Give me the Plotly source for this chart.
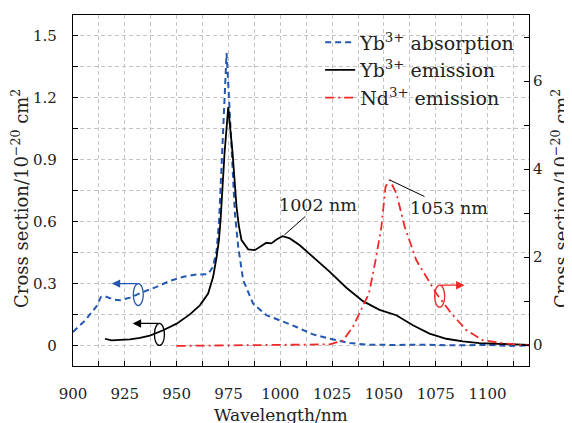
import plotly.graph_objects as go

# Yb3+ absorption (left axis, 1e-20 cm^2)
abs_wl = [900, 905.8, 911.4, 913.5, 915.4, 919.4, 922.7, 927.5, 933.9, 940.3, 946.7, 953.2,
          959.6, 965.2, 967.5, 969.3, 970.5, 971.8, 972.9, 974.1, 975.3, 976.6, 977.3, 978.1,
          979.7, 982.1, 986.9, 993.3, 999.8, 1007.8, 1015.8, 1023.9, 1033.5, 1043, 1055,
          1070, 1085, 1100, 1110, 1120]
abs_val = [0.065, 0.12, 0.19, 0.235, 0.238, 0.222, 0.218, 0.231, 0.259, 0.283, 0.312, 0.332,
           0.343, 0.345, 0.38, 0.46, 0.607, 0.93, 1.19, 1.416, 1.19, 0.93, 0.80, 0.64,
           0.477, 0.316, 0.202, 0.146, 0.121, 0.089, 0.053, 0.032, 0.011, 0.003, 0.002,
           0.003, 0.0, 0.002, -0.003, 0.0]

# Yb3+ emission (left axis)
emi_wl = [915.4, 918.6, 922.7, 927.5, 932.3, 937.1, 943.5, 950, 956.4, 961.2, 965.2, 967.6,
          969.3, 970.4, 971.2, 973.1, 974.9, 977, 978.9, 980, 981.3, 984.5, 987.7, 990.1,
          993.3, 995.7, 998.2, 1001.1, 1004.6, 1009.4, 1015.8, 1023.9, 1031.9, 1039.9,
          1047.9, 1056, 1064, 1072, 1080.1, 1088.1, 1096.1, 1104.2, 1113.8, 1120]
emi_val = [0.032, 0.024, 0.027, 0.029, 0.036, 0.047, 0.073, 0.105, 0.15, 0.194, 0.251, 0.332,
           0.429, 0.51, 0.607, 0.93, 1.154, 0.93, 0.671, 0.58, 0.51, 0.465, 0.461, 0.477,
           0.497, 0.494, 0.513, 0.529, 0.518, 0.485, 0.429, 0.356, 0.279, 0.214,
           0.172, 0.146, 0.097, 0.057, 0.032, 0.019, 0.011, 0.008, 0.003, 0.002]

# Nd3+ emission (right axis)
nd_wl = [950, 970, 990, 1010, 1023.9, 1030.3, 1035.1, 1042.8, 1046, 1048.8, 1050.8, 1052.8,
         1056, 1060, 1065.6, 1075.3, 1082.5, 1089.7, 1097.7, 1107.4, 1120]
nd_val = [-0.02, -0.01, 0.0, 0.0, 0.015, 0.10, 0.42, 1.17, 1.93, 2.69, 3.6, 3.75,
          3.45, 2.69, 1.93, 1.17, 0.72, 0.34, 0.11, 0.04, -0.01]

left_ticks = [0, 0.3, 0.6, 0.9, 1.2, 1.5]
left_ticktext = ["0", "0.3", "0.6", "0.9", "1.2", "1.5"]

FONT = "DejaVu Serif"
BLUE = "#2458b0"
RED = "#f02828"
GRID = "#c4c4c4"
TXT = "#222"

fig = go.Figure()
fig.add_trace(go.Scatter(x=abs_wl, y=abs_val, mode="lines", name="Yb<sup>3+</sup> absorption",
                         line=dict(color=BLUE, width=2, dash="6px,4px")))
fig.add_trace(go.Scatter(x=emi_wl, y=emi_val, mode="lines", name="Yb<sup>3+</sup> emission",
                         line=dict(color="black", width=1.8)))
fig.add_trace(go.Scatter(x=nd_wl, y=nd_val, mode="lines", name="Nd<sup>3+</sup> emission",
                         yaxis="y2", line=dict(color=RED, width=1.8, dash="9px,4px,2px,4px")))

axis_common = dict(showline=True, linecolor="black", linewidth=1.2, ticks="inside",
                   ticklen=5, tickcolor="black", zeroline=False, automargin=False,
                   ticklabelposition="outside",
                   tickfont=dict(family=FONT, size=15, color=TXT))

# page body has an 8px margin: the figure is sized/offset to compensate
fig.update_layout(
    width=564, height=415,
    margin=dict(l=65, r=43, t=7, b=57),
    plot_bgcolor="white", paper_bgcolor="white",
    font=dict(family=FONT, size=15, color=TXT),
    showlegend=True,
    legend=dict(x=0.542, y=0.976, xanchor="left", yanchor="top", bgcolor="rgba(255,255,255,0)",
                font=dict(family=FONT, size=19, color=TXT), tracegroupgap=0),
    xaxis=dict(range=[900, 1120], dtick=25, tick0=900, mirror=True,
               showgrid=True, gridcolor=GRID, griddash="4px,3px", gridwidth=1,
               minor=dict(dtick=12.5, ticks="inside", ticklen=5, tickcolor="black",
                          showgrid=True, gridcolor=GRID, griddash="4px,3px"),
               ticklabelstandoff=14,
               **axis_common),
    yaxis=dict(range=[-0.1, 1.6], mirror=True,
               tickvals=left_ticks, ticktext=left_ticktext,
               showgrid=True, gridcolor=GRID, griddash="4px,3px", gridwidth=1,
               minor=dict(dtick=0.15, tick0=0, ticks="inside", ticklen=5, tickcolor="black",
                          showgrid=True, gridcolor=GRID, griddash="4px,3px"),
               ticklabelstandoff=12,
               **axis_common),
    yaxis2=dict(range=[-0.4773, 7.5], overlaying="y", side="right", dtick=2, tick0=0,
                showgrid=False,
                minor=dict(dtick=1, tick0=0, ticks="inside", ticklen=5, tickcolor="black"),
                ticklabelstandoff=0,
                **axis_common),
)

# axis titles
ytitle = "Cross section/10<sup>−20</sup> cm<sup>2</sup>"
fig.add_annotation(text="Wavelength/nm", xref="paper", yref="paper", x=0.457, y=-0.14,
                   xanchor="center", yanchor="middle", showarrow=False,
                   font=dict(family=FONT, size=17, color=TXT))
fig.add_annotation(text=ytitle, xref="paper", yref="paper", x=(20 - 73) / 456, y=0.476,
                   xanchor="center", yanchor="middle", showarrow=False, textangle=-90,
                   font=dict(family=FONT, size=18, color=TXT))
fig.add_annotation(text=ytitle, xref="paper", yref="paper", x=(560 - 73) / 456, y=0.476,
                   xanchor="center", yanchor="middle", showarrow=False, textangle=-90,
                   font=dict(family=FONT, size=18, color=TXT))

# peak annotations
fig.add_annotation(x=1002, y=0.535, xref="x", yref="y", text="1002 nm", showarrow=True,
                   arrowhead=0, arrowwidth=1, arrowcolor="black", ax=34, ay=-30,
                   font=dict(family=FONT, size=17.5, color=TXT))
fig.add_annotation(x=1052.8, y=3.75, xref="x", yref="y2", text="1053 nm", showarrow=True,
                   arrowhead=0, arrowwidth=1, arrowcolor="black", ax=59, ay=28,
                   font=dict(family=FONT, size=17.5, color=TXT))

# axis indicators (ellipse + arrow toward the axis used)
indicators = [
    dict(x=931.5, y=0.246, yref="y", color=BLUE, tipx=918.7, tipy=0.299, ax=27),
    dict(x=941.7, y=0.053, yref="y", color="black", tipx=928.8, tipy=0.106, ax=27),
    dict(x=1076.9, y=1.11, yref="y2", color=RED, tipx=1088.9, tipy=1.36, ax=-25),
]
for ind in indicators:
    fig.add_shape(type="circle", xref="x", yref=ind["yref"], xsizemode="pixel", ysizemode="pixel",
                  xanchor=ind["x"], yanchor=ind["y"], x0=-5, x1=5, y0=-11, y1=11,
                  line=dict(color=ind["color"], width=1.3))
    fig.add_annotation(x=ind["tipx"], y=ind["tipy"], xref="x", yref=ind["yref"], text="",
                       showarrow=True, arrowhead=2, arrowsize=1.3, arrowwidth=1.3,
                       arrowcolor=ind["color"], ax=ind["ax"], ay=0, standoff=0)

fig.write_html("out.html")
